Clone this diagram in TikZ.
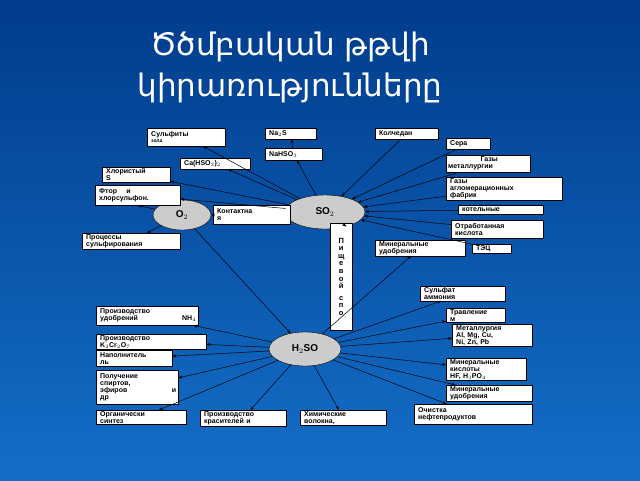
\documentclass[tikz,border=0pt]{standalone}
\usepackage{fontspec}
\setmainfont{Liberation Sans}
\newfontfamily\armfont{DejaVu Sans}
\usetikzlibrary{arrows.meta,shapes.geometric}
\begin{document}
\begin{tikzpicture}[x=1pt,y=-1pt,
  bx/.style={draw=black,fill=white,inner xsep=0pt,inner ysep=1.2pt,font=\fontsize{7}{7}\selectfont\bfseries,align=left,anchor=north west},
  el/.style={draw=black,fill=gray!40,ellipse,font=\fontsize{10}{10}\selectfont\bfseries},
  ar/.style={-{Stealth[length=4pt,width=3pt]},black,line width=0.5pt}]
\shade[top color={rgb,255:red,0;green,60;blue,140},bottom color={rgb,255:red,20;green,110;blue,200}] (0,0) rectangle (640,480);
\useasboundingbox (0,0) rectangle (640,480);
\node[text=white,align=center,font=\armfont\fontsize{31}{41}\selectfont] (title) at (290,67) {Ծծմբական թթվի\\կիրառությունները};
\newcommand{\bb}[6]{\node[bx,minimum width=#4-#2,minimum height=#5-#3,text width=#4-#2-4] (#1) at (#2,#3) {\hspace*{2pt}#6};}
\node[el,minimum width=58,minimum height=30] (o2) at (182,215) {O$_2$};
\node[el,minimum width=80,minimum height=34] (so2) at (325,212) {SO$_2$};
\node[el,minimum width=72,minimum height=34] (h2so) at (305,349) {H$_2$SO};
\bb{sulf}{147}{128}{225}{146}{Сульфиты\\[-1pt]\hspace*{2pt}\tiny зола}
\bb{nas}{265}{128}{316}{139}{Na$_2$S}
\bb{nahso}{265}{148}{322}{160}{NaHSO$_3$}
\bb{kol}{375}{128}{438}{139}{Колчедан}
\bb{sera}{446}{138}{490}{149}{Сера}
\bb{gaz1}{446}{155}{530}{172}{\centering Газы\\металлургии}
\bb{gaz2}{446}{177}{562}{198}{Газы\\\hspace*{2pt}агломерационных\\\hspace*{2pt}фабрик}
\bb{kot}{458}{205}{543}{214}{\centering котельные}
\bb{otr}{451}{220}{543}{238}{Отработанная\\\hspace*{2pt}кислота}
\bb{tec}{472}{244}{511}{252}{\centering ТЭЦ}
\bb{caso}{180}{158}{250}{169}{\centering Ca(HSO$_3$)$_2$}
\bb{hlor}{102}{167}{170}{180}{Хлористый\\\hspace*{2pt}S}
\bb{ftor}{95}{185}{180}{205}{Фтор \quad и\\\hspace*{2pt}хлорсульфон.}
\bb{kont}{213}{205}{290}{224}{Контактна\\\hspace*{2pt}я}
\bb{proc}{82}{233}{180}{248}{Процессы\\\hspace*{2pt}сульфирования}
\node[bx,minimum width=22,minimum height=107,text width=20,align=center,font=\fontsize{7.5}{7.6}\selectfont\bfseries] (pish) at (330,223) {П\\и\\щ\\е\\в\\о\\й\\[4pt]с\\п\\о};
\bb{min1}{375}{240}{465}{255}{Минеральные\\\hspace*{2pt}удобрения}
\bb{sfat}{420}{286}{505}{300}{Сульфат\\\hspace*{2pt}аммония}
\bb{trav}{446}{308}{505}{322}{Травление\\\hspace*{2pt}м}
\bb{met}{452}{324}{532}{345}{Металлургия\\\hspace*{2pt}Al, Mg, Cu,\\\hspace*{2pt}Ni, Zn, Pb}
\bb{mkis}{446}{358}{526}{378}{Минеральные\\\hspace*{2pt}кислоты\\\hspace*{2pt}HF, H$_3$PO$_4$}
\bb{mud}{446}{385}{532}{398}{Минеральные\\\hspace*{2pt}удобрения}
\bb{ochi}{414}{404}{532}{424}{Очистка\\\hspace*{2pt}нефтепродуктов}
\bb{prud}{96}{306}{198}{325}{Производство\\\hspace*{2pt}удобрений \hfill NH$_4$}
\bb{prk}{96}{334}{206}{348}{Производство\\\hspace*{2pt}K$_2$Cr$_2$O$_7$}
\bb{nap}{96}{350}{172}{366}{Наполнитель\\\hspace*{2pt}ль}
\bb{pol}{96}{370}{178}{404}{Получение\\\hspace*{2pt}спиртов,\\\hspace*{2pt}эфиров \hfill и\\\hspace*{2pt}др}
\bb{org}{96}{410}{186}{424}{Органически\\\hspace*{2pt}синтез}
\bb{prkr}{200}{410}{286}{424}{Производство\\\hspace*{2pt}красителей и}
\bb{him}{300}{410}{386}{424}{Химические\\\hspace*{2pt}волокна,}
\foreach \t in {sulf,nahso,caso,hlor,ftor} \draw[ar] (so2) -- (\t);
\draw[ar] (nahso) -- (nas);
\foreach \t in {kol,sera,gaz1,gaz2,kot,otr,tec} \draw[ar] (\t) -- (so2);
\draw[ar] (kont) -- (o2);
\draw[ar] (o2) -- (ftor.south);
\draw[ar] (o2) -- (proc);
\draw[ar] (o2) -- (h2so);
\draw[ar] (pish.north) -- (so2);
\foreach \t in {min1,sfat,trav,met,mkis,mud,ochi,prud,prk,nap,pol,org,prkr,him} \draw[ar] (h2so) -- (\t);
\end{tikzpicture}
\end{document}
